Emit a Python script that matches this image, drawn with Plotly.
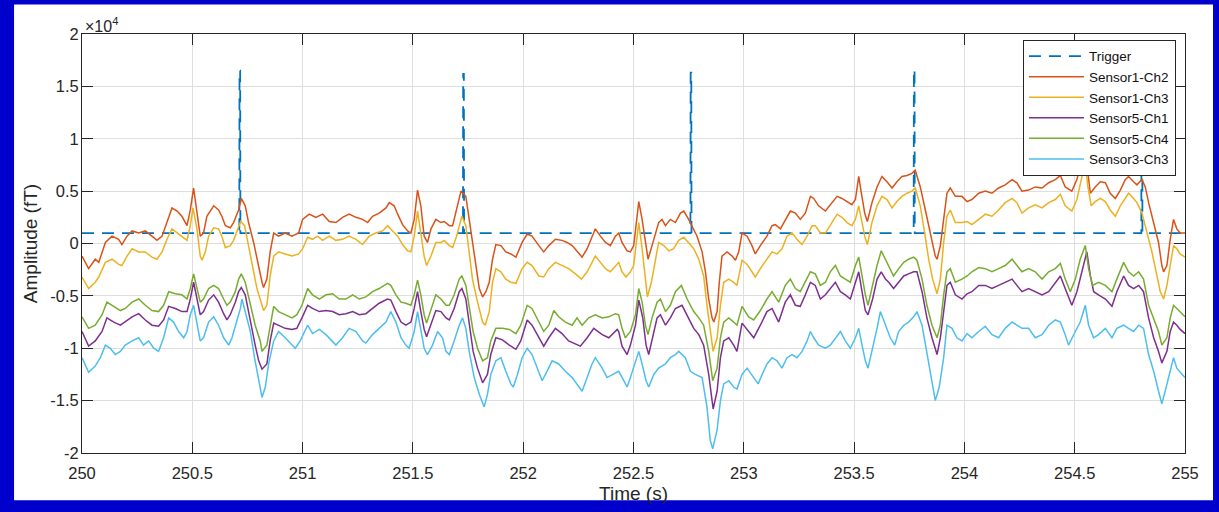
import plotly.graph_objects as go

# ---------------- data (amplitude in units of 1e4 fT, time in s) ----------------
TRIG_TIMES = [250.713, 251.727, 252.758, 253.770, 254.802]
TRIG_PEAKS = [1.65, 1.62, 1.63, 1.66, 1.65]
TRIG_BASE = 0.10

S1_CH2 = [(250.000,-0.12),(250.030,-0.24),(250.060,-0.15),(250.076,-0.18),(250.106,0.01),(250.136,0.07),(250.166,0.04),(250.181,-0.01),(250.204,0.07),(250.227,0.12),(250.257,0.10),(250.287,0.12),(250.317,0.07),(250.340,0.03),(250.363,0.07),(250.385,0.20),(250.408,0.34),(250.431,0.31),(250.453,0.26),(250.476,0.17),(250.491,0.32),(250.506,0.53),(250.521,0.29),(250.536,0.07),(250.551,0.10),(250.566,0.26),(250.597,0.36),(250.619,0.32),(250.634,0.26),(250.650,0.17),(250.672,0.15),(250.687,0.20),(250.710,0.32),(250.722,0.43),(250.740,0.36),(250.755,0.20),(250.778,0.01),(250.793,-0.15),(250.816,-0.37),(250.823,-0.42),(250.838,-0.34),(250.853,-0.08),(250.869,0.10),(250.891,0.07),(250.921,0.10),(250.952,0.07),(250.982,0.10),
(251.000,0.23),(251.030,0.28),(251.060,0.25),(251.091,0.28),(251.121,0.21),(251.151,0.20),(251.181,0.25),(251.211,0.28),(251.242,0.25),(251.272,0.23),(251.295,0.20),(251.317,0.26),(251.347,0.29),(251.378,0.34),(251.393,0.39),(251.415,0.36),(251.431,0.28),(251.453,0.18),(251.476,0.12),(251.491,0.10),(251.506,0.23),(251.521,0.51),(251.536,0.36),(251.551,0.07),(251.566,0.01),(251.582,0.14),(251.604,0.23),(251.627,0.20),(251.642,0.21),(251.665,0.17),(251.680,0.17),(251.698,0.32),(251.718,0.50),(251.740,0.45),(251.755,0.23),(251.770,-0.02),(251.785,-0.24),(251.801,-0.43),(251.816,-0.51),(251.831,-0.46),(251.846,-0.37),(251.861,-0.15),(251.876,-0.01),(251.899,-0.02),(251.921,-0.08),(251.944,-0.10),(251.967,-0.13),
(251.995,0.01),(252.018,0.09),(252.040,0.07),(252.071,-0.02),(252.093,-0.08),(252.116,-0.02),(252.146,0.04),(252.176,0.03),(252.199,0.01),(252.222,-0.02),(252.252,-0.10),(252.267,-0.13),(252.290,-0.05),(252.312,0.07),(252.327,0.14),(252.350,0.07),(252.373,0.01),(252.395,-0.02),(252.418,0.07),(252.433,0.10),(252.448,0.01),(252.471,-0.07),(252.486,-0.08),(252.501,-0.02),(252.516,0.26),(252.524,0.40),(252.539,0.23),(252.557,-0.05),(252.566,-0.15),(252.584,-0.02),(252.614,0.20),(252.629,0.23),(252.645,0.17),(252.667,0.23),(252.690,0.20),(252.713,0.29),(252.728,0.31),(252.750,0.23),(252.773,0.14),(252.788,0.07),(252.811,-0.08),(252.826,-0.27),(252.841,-0.53),(252.856,-0.71),(252.864,-0.75),(252.879,-0.65),(252.889,-0.37),(252.901,-0.12),(252.924,-0.08),(252.947,-0.12),(252.962,-0.16),(252.977,-0.08),
(252.992,0.10),(253.015,0.07),(253.037,-0.02),(253.052,-0.10),(253.075,-0.02),(253.105,0.07),(253.128,0.17),(253.143,0.18),(253.166,0.14),(253.188,0.23),(253.211,0.31),(253.234,0.29),(253.256,0.23),(253.279,0.29),(253.302,0.45),(253.317,0.43),(253.339,0.36),(253.370,0.31),(253.392,0.37),(253.423,0.45),(253.445,0.43),(253.468,0.40),(253.490,0.37),(253.506,0.42),(253.521,0.64),(253.533,0.48),(253.548,0.29),(253.560,0.21),(253.581,0.39),(253.604,0.54),(253.626,0.64),(253.649,0.59),(253.672,0.53),(253.694,0.59),(253.717,0.64),(253.740,0.65),(253.762,0.67),(253.777,0.70),(253.800,0.54),(253.823,0.32),(253.838,0.17),(253.853,0.01),(253.868,-0.12),(253.876,-0.15),(253.891,-0.02),(253.906,0.23),(253.921,0.48),(253.936,0.53),(253.959,0.45),
(253.989,0.45),(254.012,0.40),(254.034,0.42),(254.065,0.48),(254.095,0.50),(254.125,0.48),(254.155,0.53),(254.185,0.56),(254.216,0.61),(254.238,0.58),(254.261,0.50),(254.291,0.51),(254.321,0.54),(254.352,0.53),(254.382,0.58),(254.412,0.61),(254.435,0.65),(254.457,0.54),(254.487,0.50),(254.510,0.61),(254.533,0.80),(254.548,0.86),(254.560,0.67),(254.571,0.48),(254.593,0.54),(254.616,0.59),(254.639,0.58),(254.661,0.48),(254.684,0.43),(254.707,0.51),(254.729,0.61),(254.744,0.64),(254.767,0.59),(254.782,0.56),(254.805,0.61),(254.820,0.54),(254.835,0.39),(254.858,0.20),(254.880,0.01),(254.895,-0.21),(254.903,-0.27),(254.918,-0.21),(254.933,0.04),(254.948,0.23),(254.963,0.14),(254.978,0.10),(255.000,0.10)]

S1_CH3 = [(250.000,-0.32),(250.030,-0.43),(250.060,-0.37),(250.076,-0.32),(250.106,-0.18),(250.136,-0.15),(250.166,-0.20),(250.181,-0.21),(250.204,-0.12),(250.227,-0.05),(250.257,-0.08),(250.287,-0.08),(250.317,-0.13),(250.340,-0.15),(250.363,-0.08),(250.385,0.04),(250.408,0.14),(250.431,0.10),(250.453,0.07),(250.476,0.03),(250.491,0.17),(250.503,0.34),(250.521,0.14),(250.536,-0.12),(250.544,-0.16),(250.559,-0.08),(250.574,0.07),(250.597,0.15),(250.619,0.14),(250.634,0.07),(250.650,-0.04),(250.672,-0.02),(250.687,0.03),(250.707,0.14),(250.719,0.21),(250.737,0.17),(250.755,-0.02),(250.773,-0.21),(250.793,-0.43),(250.816,-0.59),(250.823,-0.64),(250.838,-0.59),(250.853,-0.31),(250.869,-0.12),(250.891,-0.08),(250.921,-0.10),(250.952,-0.12),(250.982,-0.10),
(251.000,-0.05),(251.023,0.06),(251.045,0.04),(251.068,0.07),(251.091,0.03),(251.121,0.07),(251.151,0.03),(251.181,0.04),(251.211,0.07),(251.242,0.04),(251.272,-0.01),(251.302,0.07),(251.332,0.10),(251.363,0.12),(251.385,0.17),(251.408,0.12),(251.431,0.07),(251.453,-0.01),(251.476,-0.07),(251.491,-0.08),(251.506,0.07),(251.521,0.31),(251.536,0.10),(251.551,-0.12),(251.562,-0.21),(251.582,-0.12),(251.604,0.01),(251.627,0.01),(251.642,0.03),(251.665,-0.02),(251.680,-0.04),(251.698,0.07),(251.722,0.26),(251.740,0.17),(251.755,-0.08),(251.770,-0.34),(251.793,-0.56),(251.816,-0.75),(251.828,-0.78),(251.846,-0.65),(251.861,-0.37),(251.876,-0.24),(251.899,-0.27),(251.921,-0.34),(251.944,-0.37),(251.967,-0.38),
(251.995,-0.24),(252.018,-0.18),(252.040,-0.21),(252.071,-0.31),(252.093,-0.32),(252.116,-0.24),(252.146,-0.18),(252.176,-0.21),(252.206,-0.24),(252.237,-0.29),(252.264,-0.34),(252.290,-0.27),(252.312,-0.18),(252.327,-0.12),(252.350,-0.18),(252.373,-0.24),(252.395,-0.27),(252.418,-0.21),(252.433,-0.18),(252.448,-0.27),(252.466,-0.32),(252.486,-0.27),(252.501,-0.21),(252.513,0.01),(252.524,0.20),(252.539,-0.05),(252.554,-0.37),(252.563,-0.51),(252.581,-0.37),(252.599,-0.15),(252.614,0.01),(252.637,-0.02),(252.660,-0.07),(252.682,-0.05),(252.705,0.03),(252.728,0.06),(252.750,0.01),(252.773,-0.05),(252.796,-0.15),(252.818,-0.31),(252.833,-0.59),(252.848,-0.84),(252.861,-1.03),(252.879,-0.90),(252.894,-0.59),(252.909,-0.37),(252.932,-0.34),(252.954,-0.37),(252.969,-0.40),
(252.992,-0.16),(253.015,-0.20),(253.037,-0.27),(253.052,-0.32),(253.075,-0.24),(253.105,-0.15),(253.128,-0.08),(253.151,-0.10),(253.173,-0.05),(253.196,0.07),(253.219,0.10),(253.241,0.04),(253.264,-0.01),(253.287,0.07),(253.309,0.17),(253.324,0.17),(253.347,0.10),(253.370,0.10),(253.392,0.17),(253.423,0.28),(253.445,0.25),(253.468,0.20),(253.490,0.17),(253.506,0.23),(253.521,0.36),(253.536,0.20),(253.548,0.07),(253.560,-0.01),(253.581,0.20),(253.604,0.36),(253.626,0.45),(253.649,0.42),(253.672,0.34),(253.694,0.40),(253.717,0.45),(253.740,0.48),(253.762,0.50),(253.777,0.53),(253.800,0.36),(253.820,0.10),(253.838,-0.15),(253.856,-0.34),(253.876,-0.48),(253.891,-0.34),(253.906,0.01),(253.921,0.26),(253.936,0.32),(253.959,0.20),
(253.989,0.20),(254.012,0.21),(254.034,0.18),(254.065,0.23),(254.095,0.28),(254.125,0.26),(254.155,0.32),(254.185,0.39),(254.216,0.43),(254.238,0.39),(254.261,0.29),(254.291,0.34),(254.321,0.37),(254.352,0.34),(254.382,0.39),(254.412,0.42),(254.435,0.47),(254.457,0.36),(254.487,0.31),(254.510,0.42),(254.533,0.64),(254.548,0.75),(254.560,0.54),(254.575,0.36),(254.593,0.40),(254.616,0.43),(254.639,0.40),(254.661,0.32),(254.684,0.26),(254.707,0.36),(254.729,0.43),(254.744,0.48),(254.767,0.43),(254.782,0.39),(254.805,0.29),(254.827,0.10),(254.850,-0.08),(254.873,-0.31),(254.888,-0.46),(254.903,-0.53),(254.918,-0.40),(254.933,-0.21),(254.948,-0.02),(254.963,-0.05),(254.978,-0.10),(255.000,-0.13)]

S5_CH1 = [(250.000,-0.84),(250.030,-0.98),(250.060,-0.93),(250.091,-0.84),(250.113,-0.71),(250.144,-0.75),(250.174,-0.78),(250.196,-0.75),(250.227,-0.70),(250.257,-0.67),(250.287,-0.73),(250.317,-0.78),(250.347,-0.79),(250.370,-0.73),(250.393,-0.60),(250.423,-0.62),(250.453,-0.65),(250.476,-0.65),(250.491,-0.53),(250.506,-0.37),(250.521,-0.53),(250.536,-0.68),(250.551,-0.65),(250.574,-0.54),(250.597,-0.49),(250.619,-0.56),(250.642,-0.67),(250.657,-0.73),(250.672,-0.68),(250.695,-0.56),(250.710,-0.46),(250.722,-0.42),(250.740,-0.49),(250.763,-0.75),(250.785,-0.97),(250.801,-1.12),(250.816,-1.20),(250.838,-1.15),(250.853,-0.93),(250.869,-0.76),(250.891,-0.78),(250.921,-0.81),(250.952,-0.82),(250.974,-0.81),(250.997,-0.71),
(251.023,-0.59),(251.045,-0.62),(251.076,-0.65),(251.106,-0.64),(251.136,-0.65),(251.166,-0.68),(251.196,-0.67),(251.227,-0.65),(251.257,-0.68),(251.287,-0.67),(251.317,-0.62),(251.347,-0.57),(251.385,-0.53),(251.400,-0.54),(251.423,-0.65),(251.446,-0.75),(251.468,-0.78),(251.491,-0.75),(251.506,-0.62),(251.521,-0.46),(251.536,-0.65),(251.551,-0.82),(251.562,-0.89),(251.582,-0.78),(251.604,-0.64),(251.627,-0.65),(251.650,-0.71),(251.665,-0.73),(251.687,-0.62),(251.710,-0.46),(251.722,-0.43),(251.740,-0.53),(251.755,-0.78),(251.773,-1.03),(251.793,-1.19),(251.816,-1.33),(251.838,-1.25),(251.853,-1.06),(251.876,-0.90),(251.906,-0.92),(251.937,-0.97),(251.967,-1.01),(251.989,-0.93),
(252.018,-0.73),(252.040,-0.78),(252.071,-0.90),(252.093,-0.98),(252.116,-0.90),(252.146,-0.81),(252.176,-0.86),(252.206,-0.93),(252.259,-0.98),(252.290,-0.90),(252.320,-0.81),(252.358,-0.87),(252.388,-0.90),(252.426,-0.82),(252.433,-0.84),(252.448,-0.98),(252.471,-1.06),(252.486,-0.97),(252.509,-0.78),(252.524,-0.54),(252.542,-0.71),(252.557,-0.97),(252.569,-1.06),(252.587,-0.90),(252.607,-0.71),(252.622,-0.68),(252.645,-0.78),(252.667,-0.71),(252.690,-0.62),(252.720,-0.59),(252.743,-0.68),(252.773,-0.81),(252.796,-0.87),(252.818,-0.97),(252.841,-1.25),(252.861,-1.58),(252.879,-1.41),(252.894,-1.09),(252.909,-0.93),(252.932,-0.90),(252.954,-0.97),(252.969,-1.03),
(252.992,-0.76),(253.022,-0.84),(253.045,-0.90),(253.075,-0.78),(253.105,-0.65),(253.128,-0.62),(253.158,-0.75),(253.188,-0.56),(253.211,-0.49),(253.234,-0.59),(253.256,-0.60),(253.279,-0.49),(253.302,-0.37),(253.324,-0.40),(253.347,-0.53),(253.370,-0.49),(253.392,-0.43),(253.415,-0.37),(253.438,-0.46),(253.460,-0.49),(253.483,-0.53),(253.506,-0.37),(253.521,-0.27),(253.536,-0.46),(253.551,-0.64),(253.563,-0.68),(253.584,-0.53),(253.604,-0.34),(253.623,-0.27),(253.642,-0.34),(253.657,-0.37),(253.679,-0.43),(253.702,-0.37),(253.725,-0.31),(253.747,-0.29),(253.770,-0.27),(253.785,-0.27),(253.808,-0.46),(253.830,-0.71),(253.853,-0.90),(253.876,-1.06),(253.891,-0.90),(253.906,-0.65),(253.921,-0.40),(253.936,-0.37),(253.959,-0.49),
(253.989,-0.53),(254.012,-0.48),(254.034,-0.46),(254.065,-0.40),(254.095,-0.40),(254.125,-0.43),(254.155,-0.40),(254.185,-0.37),(254.216,-0.34),(254.238,-0.40),(254.261,-0.46),(254.291,-0.43),(254.321,-0.46),(254.352,-0.49),(254.382,-0.46),(254.412,-0.37),(254.435,-0.31),(254.457,-0.43),(254.487,-0.59),(254.510,-0.46),(254.533,-0.27),(254.555,-0.08),(254.571,-0.31),(254.586,-0.46),(254.608,-0.49),(254.639,-0.53),(254.669,-0.60),(254.691,-0.46),(254.722,-0.31),(254.744,-0.40),(254.767,-0.43),(254.790,-0.40),(254.812,-0.46),(254.835,-0.71),(254.858,-0.90),(254.880,-1.03),(254.895,-1.14),(254.918,-1.03),(254.933,-0.84),(254.948,-0.75),(254.963,-0.78),(254.978,-0.82),(255.000,-0.86)]

S5_CH4 = [(250.000,-0.70),(250.030,-0.81),(250.060,-0.78),(250.091,-0.68),(250.113,-0.56),(250.144,-0.60),(250.174,-0.64),(250.196,-0.62),(250.227,-0.56),(250.257,-0.53),(250.287,-0.59),(250.317,-0.64),(250.347,-0.65),(250.370,-0.59),(250.393,-0.46),(250.423,-0.48),(250.453,-0.49),(250.476,-0.53),(250.491,-0.43),(250.506,-0.29),(250.521,-0.43),(250.536,-0.56),(250.551,-0.53),(250.574,-0.43),(250.597,-0.40),(250.619,-0.43),(250.642,-0.53),(250.657,-0.59),(250.672,-0.56),(250.695,-0.46),(250.710,-0.34),(250.722,-0.29),(250.740,-0.37),(250.763,-0.59),(250.785,-0.78),(250.808,-0.93),(250.816,-1.03),(250.838,-0.97),(250.853,-0.78),(250.869,-0.60),(250.891,-0.65),(250.921,-0.68),(250.952,-0.71),(250.974,-0.68),(250.997,-0.59),
(251.023,-0.43),(251.045,-0.49),(251.076,-0.53),(251.106,-0.49),(251.136,-0.48),(251.166,-0.53),(251.196,-0.53),(251.227,-0.49),(251.257,-0.53),(251.287,-0.51),(251.317,-0.46),(251.347,-0.43),(251.385,-0.38),(251.400,-0.40),(251.423,-0.49),(251.446,-0.56),(251.468,-0.57),(251.491,-0.59),(251.506,-0.49),(251.521,-0.35),(251.536,-0.49),(251.551,-0.68),(251.562,-0.76),(251.582,-0.62),(251.604,-0.49),(251.627,-0.53),(251.650,-0.59),(251.665,-0.59),(251.687,-0.49),(251.710,-0.34),(251.722,-0.31),(251.740,-0.40),(251.755,-0.62),(251.773,-0.84),(251.793,-1.00),(251.816,-1.12),(251.838,-1.09),(251.853,-0.93),(251.876,-0.81),(251.906,-0.81),(251.937,-0.82),(251.967,-0.86),(251.989,-0.78),
(252.018,-0.59),(252.040,-0.62),(252.071,-0.75),(252.093,-0.84),(252.116,-0.78),(252.139,-0.64),(252.161,-0.70),(252.191,-0.75),(252.222,-0.78),(252.244,-0.71),(252.267,-0.78),(252.297,-0.71),(252.327,-0.68),(252.358,-0.71),(252.388,-0.70),(252.418,-0.67),(252.433,-0.68),(252.448,-0.81),(252.463,-0.90),(252.486,-0.84),(252.509,-0.68),(252.524,-0.43),(252.539,-0.56),(252.554,-0.78),(252.566,-0.87),(252.584,-0.71),(252.607,-0.56),(252.622,-0.53),(252.645,-0.65),(252.667,-0.59),(252.690,-0.46),(252.717,-0.40),(252.743,-0.53),(252.773,-0.65),(252.796,-0.71),(252.818,-0.78),(252.841,-1.03),(252.859,-1.31),(252.879,-1.19),(252.894,-0.90),(252.909,-0.75),(252.932,-0.71),(252.954,-0.75),(252.969,-0.78),
(252.992,-0.60),(253.022,-0.70),(253.045,-0.73),(253.075,-0.64),(253.105,-0.53),(253.128,-0.46),(253.158,-0.56),(253.188,-0.40),(253.211,-0.34),(253.234,-0.43),(253.256,-0.46),(253.279,-0.37),(253.302,-0.27),(253.324,-0.29),(253.347,-0.40),(253.370,-0.37),(253.392,-0.27),(253.415,-0.21),(253.438,-0.31),(253.460,-0.34),(253.483,-0.37),(253.506,-0.21),(253.521,-0.13),(253.536,-0.31),(253.551,-0.49),(253.563,-0.59),(253.584,-0.40),(253.604,-0.21),(253.623,-0.07),(253.642,-0.15),(253.657,-0.21),(253.679,-0.31),(253.702,-0.24),(253.725,-0.18),(253.747,-0.15),(253.770,-0.13),(253.785,-0.16),(253.808,-0.34),(253.830,-0.59),(253.853,-0.78),(253.876,-0.90),(253.891,-0.78),(253.906,-0.49),(253.921,-0.27),(253.936,-0.24),(253.959,-0.37),
(253.989,-0.34),(254.012,-0.31),(254.034,-0.27),(254.065,-0.23),(254.095,-0.24),(254.125,-0.27),(254.155,-0.24),(254.185,-0.21),(254.216,-0.15),(254.238,-0.21),(254.261,-0.27),(254.291,-0.24),(254.321,-0.27),(254.352,-0.34),(254.382,-0.27),(254.412,-0.24),(254.435,-0.19),(254.457,-0.34),(254.480,-0.46),(254.503,-0.34),(254.525,-0.15),(254.548,-0.02),(254.563,-0.24),(254.581,-0.40),(254.608,-0.37),(254.639,-0.40),(254.669,-0.46),(254.691,-0.34),(254.722,-0.18),(254.744,-0.27),(254.767,-0.31),(254.790,-0.27),(254.812,-0.34),(254.835,-0.59),(254.858,-0.71),(254.880,-0.84),(254.895,-0.97),(254.918,-0.90),(254.933,-0.71),(254.948,-0.59),(254.963,-0.62),(254.978,-0.65),(255.000,-0.70)]

S3_CH3 = [(250.000,-1.09),(250.030,-1.23),(250.060,-1.17),(250.083,-1.09),(250.106,-0.97),(250.128,-1.00),(250.151,-1.06),(250.174,-1.03),(250.196,-0.97),(250.227,-0.93),(250.257,-0.90),(250.279,-0.97),(250.302,-0.93),(250.325,-1.00),(250.347,-1.03),(250.370,-0.90),(250.393,-0.71),(250.415,-0.75),(250.438,-0.84),(250.461,-0.90),(250.476,-0.84),(250.491,-0.68),(250.506,-0.59),(250.521,-0.78),(250.536,-0.93),(250.551,-0.90),(250.574,-0.75),(250.597,-0.70),(250.619,-0.78),(250.642,-0.90),(250.665,-0.97),(250.680,-0.90),(250.702,-0.75),(250.718,-0.62),(250.725,-0.53),(250.740,-0.65),(250.763,-0.84),(250.782,-1.09),(250.801,-1.31),(250.816,-1.47),(250.831,-1.37),(250.846,-1.15),(250.869,-0.93),(250.891,-0.84),(250.921,-0.90),(250.952,-0.97),(250.967,-1.00),(250.989,-0.93),
(251.023,-0.78),(251.045,-0.86),(251.076,-0.82),(251.106,-0.87),(251.151,-0.97),(251.181,-0.90),(251.211,-0.81),(251.242,-0.84),(251.272,-0.93),(251.287,-0.95),(251.317,-0.87),(251.347,-0.81),(251.378,-0.75),(251.400,-0.65),(251.423,-0.75),(251.446,-0.90),(251.468,-0.97),(251.483,-1.00),(251.506,-0.84),(251.521,-0.65),(251.536,-0.81),(251.551,-1.00),(251.566,-1.06),(251.589,-0.97),(251.612,-0.84),(251.634,-0.90),(251.650,-1.03),(251.665,-1.06),(251.687,-0.93),(251.710,-0.78),(251.725,-0.71),(251.740,-0.81),(251.755,-1.03),(251.778,-1.28),(251.801,-1.44),(251.823,-1.56),(251.838,-1.44),(251.853,-1.25),(251.876,-1.12),(251.899,-1.09),(251.921,-1.22),(251.944,-1.34),(251.955,-1.37),(251.974,-1.25),
(251.995,-1.09),(252.018,-1.00),(252.040,-1.06),(252.071,-1.22),(252.086,-1.31),(252.108,-1.22),(252.131,-1.12),(252.161,-1.15),(252.191,-1.22),(252.222,-1.28),(252.252,-1.37),(252.267,-1.41),(252.290,-1.28),(252.312,-1.15),(252.327,-1.09),(252.358,-1.19),(252.380,-1.28),(252.410,-1.25),(252.433,-1.22),(252.456,-1.31),(252.471,-1.37),(252.486,-1.28),(252.509,-1.12),(252.524,-1.03),(252.539,-1.15),(252.557,-1.31),(252.569,-1.37),(252.592,-1.25),(252.614,-1.19),(252.645,-1.15),(252.667,-1.09),(252.690,-1.06),(252.705,-1.03),(252.735,-1.09),(252.758,-1.22),(252.780,-1.25),(252.811,-1.28),(252.833,-1.56),(252.848,-1.88),(252.859,-1.96),(252.879,-1.78),(252.894,-1.50),(252.909,-1.34),(252.932,-1.31),(252.954,-1.37),(252.969,-1.39),
(252.992,-1.25),(253.015,-1.19),(253.045,-1.28),(253.065,-1.34),(253.083,-1.25),(253.105,-1.15),(253.128,-1.09),(253.151,-1.12),(253.173,-1.19),(253.196,-1.09),(253.219,-1.06),(253.241,-1.09),(253.264,-1.03),(253.287,-0.93),(253.302,-0.84),(253.317,-0.90),(253.339,-0.97),(253.370,-1.00),(253.392,-0.97),(253.415,-0.90),(253.438,-0.84),(253.460,-0.93),(253.483,-1.00),(253.506,-0.90),(253.521,-0.81),(253.536,-0.97),(253.551,-1.12),(253.563,-1.19),(253.581,-1.03),(253.604,-0.81),(253.619,-0.65),(253.642,-0.78),(253.664,-0.90),(253.684,-0.97),(253.702,-0.84),(253.725,-0.78),(253.747,-0.75),(253.770,-0.70),(253.785,-0.65),(253.808,-0.78),(253.830,-1.03),(253.850,-1.28),(253.868,-1.50),(253.886,-1.37),(253.906,-1.09),(253.921,-0.78),(253.944,-0.81),(253.966,-0.90),
(253.989,-0.93),(254.012,-0.86),(254.034,-0.90),(254.065,-0.84),(254.095,-0.79),(254.125,-0.87),(254.155,-0.90),(254.185,-0.81),(254.216,-0.75),(254.238,-0.78),(254.261,-0.81),(254.291,-0.81),(254.321,-0.90),(254.352,-0.87),(254.382,-0.78),(254.412,-0.73),(254.435,-0.75),(254.457,-0.87),(254.472,-0.97),(254.503,-0.84),(254.525,-0.75),(254.548,-0.59),(254.563,-0.78),(254.586,-0.90),(254.608,-0.87),(254.639,-0.81),(254.669,-0.90),(254.691,-0.81),(254.722,-0.78),(254.744,-0.81),(254.767,-0.84),(254.790,-0.78),(254.812,-0.81),(254.835,-1.06),(254.858,-1.22),(254.880,-1.41),(254.895,-1.53),(254.910,-1.41),(254.933,-1.22),(254.948,-1.09),(254.963,-1.19),(254.978,-1.23),(255.000,-1.28)]

SERIES = [
    ("Sensor1-Ch2", S1_CH2, "#D95319"),
    ("Sensor1-Ch3", S1_CH3, "#EDB120"),
    ("Sensor5-Ch1", S5_CH1, "#7E2F8E"),
    ("Sensor5-Ch4", S5_CH4, "#77AC30"),
    ("Sensor3-Ch3", S3_CH3, "#4DBEEE"),
]

X_TICKS = [250, 250.5, 251, 251.5, 252, 252.5, 253, 253.5, 254, 254.5, 255]
X_TICKTEXT = ["250", "250.5", "251", "251.5", "252", "252.5", "253", "253.5", "254", "254.5", "255"]
Y_TICKS = [-2, -1.5, -1, -0.5, 0, 0.5, 1, 1.5, 2]
Y_TICKTEXT = ["-2", "-1.5", "-1", "-0.5", "0", "0.5", "1", "1.5", "2"]

# ---------------- build trigger pulse train ----------------
tx, ty = [250.0], [TRIG_BASE]
for t, p in zip(TRIG_TIMES, TRIG_PEAKS):
    tx += [t, t + 0.001, t + 0.004, t + 0.005]
    ty += [TRIG_BASE, p, p, TRIG_BASE]
tx.append(255.0)
ty.append(TRIG_BASE)

fig = go.Figure()
fig.add_trace(go.Scatter(x=tx, y=ty, mode="lines", name="Trigger",
                         line=dict(color="#0072BD", width=1.8, dash="12px,8px")))
for name, pts, col in SERIES:
    fig.add_trace(go.Scatter(x=[p[0] for p in pts], y=[p[1] for p in pts], mode="lines",
                             name=name, line=dict(color=col, width=1.5)))

AX = "#262626"
axis_common = dict(showline=True, linecolor=AX, linewidth=1, mirror="allticks",
                   ticks="inside", ticklen=11, tickcolor=AX, tickwidth=1,
                   showgrid=True, gridcolor="#DEDEDE", gridwidth=1, zeroline=False,
                   tickfont=dict(size=16.5, color=AX))

fig.update_xaxes(range=[250, 255], tickvals=X_TICKS, ticktext=X_TICKTEXT,
                 ticklabelstandoff=5,
                 title=dict(text="Time (s)", font=dict(size=19, color=AX), standoff=5),
                 **axis_common)
fig.update_yaxes(range=[-2, 2], tickvals=Y_TICKS, ticktext=Y_TICKTEXT,
                 ticklabelstandoff=-1,
                 title=dict(text="Amplitude (fT)", font=dict(size=19, color=AX), standoff=7),
                 **axis_common)

fig.update_layout(
    width=1219, height=512,
    margin=dict(l=82, r=34, t=34, b=52),
    paper_bgcolor="#0000CC", plot_bgcolor="white",
    font=dict(family="Liberation Sans, Arial, sans-serif", size=16, color=AX),
    legend=dict(x=0.9918, y=0.986, xanchor="right", yanchor="top", bgcolor="white",
                bordercolor=AX, borderwidth=1, font=dict(size=13.5, color="#111111"),
                itemwidth=55, tracegroupgap=0),
    shapes=[dict(type="rect", xref="paper", yref="paper", x0=-0.0616, x1=1.0254,
                 y0=-0.1127, y1=1.0704, fillcolor="white", line=dict(width=0), layer="below")],
    annotations=[dict(text="×10<sup>4</sup>", xref="paper", yref="paper", x=0.0, y=1.0,
                      xanchor="left", yanchor="bottom", showarrow=False, xshift=1, yshift=-3,
                      font=dict(size=16, color=AX))],
)

fig.write_html("out.html", config={"displayModeBar": False},
               post_script="document.body.style.margin='0px';")
